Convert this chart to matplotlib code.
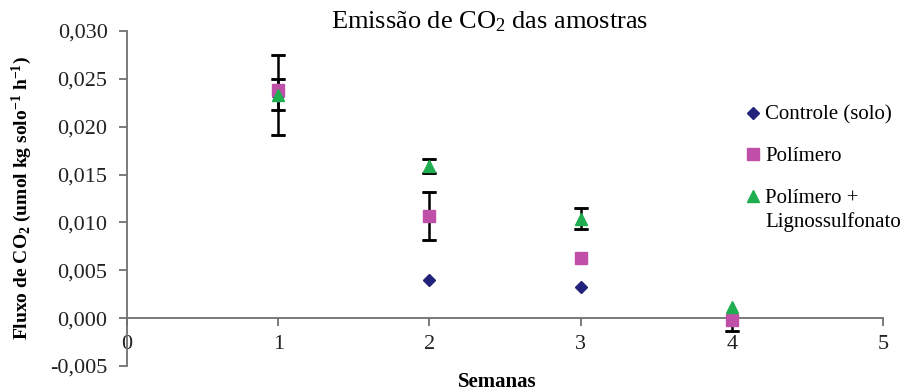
import matplotlib
matplotlib.use("Agg")
import matplotlib.pyplot as plt
from matplotlib.ticker import FuncFormatter

plt.rcParams['font.family'] = ['Liberation Serif', 'DejaVu Serif']
plt.rcParams['mathtext.fontset'] = 'custom'
plt.rcParams['mathtext.rm'] = 'Liberation Serif'
plt.rcParams['mathtext.bf'] = 'Liberation Serif:bold'
plt.rcParams['mathtext.it'] = 'Liberation Serif:italic'
plt.rcParams['axes.unicode_minus'] = False

weeks = [1, 2, 3, 4]
controle = [0.0232, 0.0040, 0.0033, -0.0002]
polimero = [0.0238, 0.0107, 0.0063, -0.0002]
polimero_err_low = [0.0021, 0.0025, 0.0, 0.0011]
polimero_err_high = [0.0012, 0.0025, 0.0, 0.0]
poli_ligno = [0.0233, 0.0159, 0.0104, 0.0012]
poli_ligno_err = [0.0042, 0.00075, 0.0011, 0.0]

labels = ["Controle (solo)", "Polímero", "Polímero +"]
label_cont = "Lignossulfonato"
title = "Emissão de CO$_2$ das amostras"
xlabel = "Semanas"
ylabel = r"Fluxo de CO$_\mathbf{2}$ (umol kg solo$^\mathbf{-1}$ h$^\mathbf{-1}$)"

fig = plt.figure(figsize=(9.09, 3.91), dpi=100)
ax = fig.add_axes([127/909, 1-366/391, (883-127)/909, (366-31)/391])

c_ctrl = '#22227a'
c_pol = '#c04fa8'
c_pl = '#1fae4f'

ekw = dict(ecolor='black', elinewidth=1.8, capsize=5, capthick=1.8, zorder=2)


def draw_err(xs, ys, lo, hi):
    for x, y, l, h in zip(xs, ys, lo, hi):
        if l > 0:
            ax.errorbar([x], [y], yerr=[[l], [0]], lolims=False, fmt='none', **ekw)
        if h > 0:
            ax.errorbar([x], [y], yerr=[[0], [h]], fmt='none', **ekw)


def draw_err_one(xs, ys, lo, hi):
    for x, y, l, h in zip(xs, ys, lo, hi):
        if l > 0 or h > 0:
            ax.vlines(x, y - l, y + h, color='black', lw=1.8, zorder=2)
            for v, e in ((y - l, l), (y + h, h)):
                if e > 0:
                    ax.errorbar([x], [v], yerr=[[0], [0]], fmt='none', ecolor='black',
                                elinewidth=0, capsize=5, capthick=1.8, zorder=2)


draw_err_one(weeks, polimero, polimero_err_low, polimero_err_high)
draw_err_one(weeks, poli_ligno, poli_ligno_err, poli_ligno_err)

h1, = ax.plot(weeks, controle, 'D', color=c_ctrl, markersize=6.5, linestyle='none', zorder=3)
h2, = ax.plot(weeks, polimero, 's', color=c_pol, markersize=8, linestyle='none', zorder=4)
h3, = ax.plot(weeks, poli_ligno, '^', color=c_pl, markersize=8.5, linestyle='none', zorder=5)

ax.set_xlim(0, 5)
ax.set_ylim(-0.005, 0.030)
ax.set_xticks([0, 1, 2, 3, 4, 5])
ax.set_yticks([-0.005, 0.0, 0.005, 0.010, 0.015, 0.020, 0.025, 0.030])
ax.yaxis.set_major_formatter(FuncFormatter(lambda v, p: f"{v:.3f}".replace('.', ',').replace('-0,000', '0,000')))

for s in ['top', 'right']:
    ax.spines[s].set_visible(False)
ax.spines['bottom'].set_position(('data', 0))
for s in ['left', 'bottom']:
    ax.spines[s].set_color('#707070')
    ax.spines[s].set_linewidth(1.3)
ax.tick_params(axis='both', direction='out', length=6, width=1.3, color='#707070',
               labelsize=16, labelcolor='#222222')
ax.tick_params(axis='x', pad=6)
ax.tick_params(axis='y', pad=8)

ax.set_xlabel(xlabel, fontsize=15, fontweight='bold', va='center')
ax.xaxis.set_label_coords(497/909, 1-382/391, transform=fig.transFigure)

ax.set_ylabel(ylabel, fontsize=14, fontweight='bold', va='center')
ax.yaxis.set_label_coords(22/909, 1-198/391, transform=fig.transFigure)

fig.text(490/909, 1-22/391, title, fontsize=19, ha='center', va='center')

leg = fig.legend([h1, h2, h3], labels, loc='upper left', bbox_to_anchor=(738/909, 1-97/391),
                 frameon=False, fontsize=15, labelspacing=1.05, handlelength=0.6,
                 handletextpad=0.3, borderaxespad=0)
fig.text(765/909, 1-222/391, label_cont, fontsize=15, ha='left', va='center')

fig.savefig('out.png', dpi=100)
